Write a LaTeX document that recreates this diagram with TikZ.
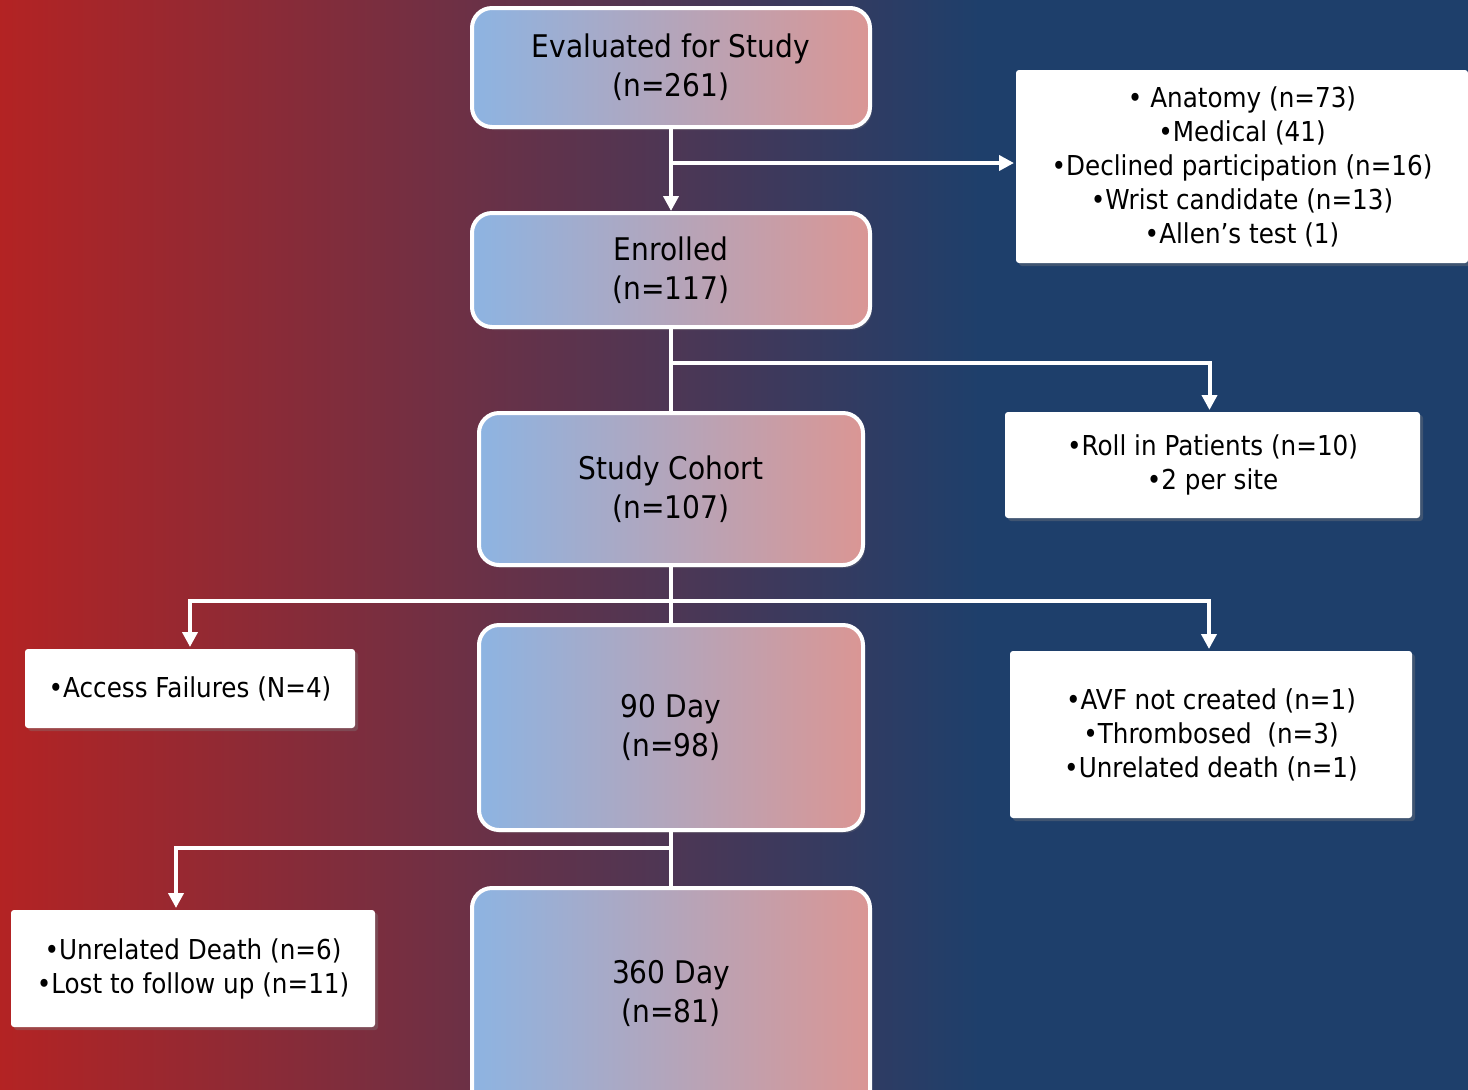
\documentclass[tikz,border=0pt]{standalone}
\usepackage{fontspec}
\setmainfont{DejaVu Sans}[FakeStretch=0.9]
\usetikzlibrary{arrows.meta, shadows}
\definecolor{bgred}{HTML}{B42323}
\definecolor{bgblue}{HTML}{1E3F6B}
\definecolor{cblue}{HTML}{8DB4E2}
\definecolor{cpink}{HTML}{DA9694}
\tikzset{
  every picture/.style={line width=2pt},
  stage/.style={draw=white, line width=2pt, left color=cblue, right color=cpink, rounded corners=10pt,
    align=center, inner sep=0pt, font=\fontsize{15.6}{19.5}\selectfont,
    drop shadow={opacity=0.3, shadow xshift=1pt, shadow yshift=-1.5pt}},
  reason/.style={fill=white, rounded corners=1.5pt, align=center, inner sep=0pt,
    font=\fontsize{13.7}{17}\selectfont,
    drop shadow={opacity=0.35, shadow xshift=1.5pt, shadow yshift=-1.5pt}},
  wire/.style={draw=white, line width=2pt},
  arrow/.style={wire, -{Triangle[width=7.5pt, length=7.5pt]}},
}

\begin{document}
\begin{tikzpicture}[x=0.5pt, y=-0.5pt]
  \useasboundingbox (0,0) rectangle (1468,1089);
  \clip (0,0) rectangle (1468,1089);
  % background
  \fill[left color=bgred, right color=bgblue] (-5,-5) rectangle (980,1100);
  \fill[bgblue] (979,-5) rectangle (1480,1100);

  % main stages
  \node[stage, minimum width=199pt, minimum height=59.5pt] (eval) at (671,67.5) {Evaluated for Study\\(n=261)};
  \node[stage, minimum width=199pt, minimum height=57pt] (enrol) at (671,270) {Enrolled\\(n=117)};
  \node[stage, minimum width=192pt, minimum height=76pt] (cohort) at (671,489) {Study Cohort\\(n=107)};
  \node[stage, minimum width=192pt, minimum height=102.5pt] (day90) at (671,727.5) {90 Day\\(n=98)};
  \node[stage, minimum width=199pt, minimum height=130pt, text depth=27pt] (day360) at (671,1018) {360 Day\\(n=81)};

  % exclusions
  \node[reason, minimum width=226pt, minimum height=96.5pt] (excl) at (1242,166.5)
    {• Anatomy (n=73)\\•Medical (41)\\•Declined participation (n=16)\\•Wrist candidate (n=13)\\•Allen’s test (1)};
  \node[reason, minimum width=207.5pt, minimum height=53pt] (roll) at (1212.5,465) {•Roll in Patients (n=10)\\•2 per site};
  \node[reason, minimum width=165pt, minimum height=39.5pt] (access) at (190,688.5) {•Access Failures (N=4)};
  \node[reason, minimum width=201pt, minimum height=83.5pt] (avf) at (1211,734.5)
    {•AVF not created (n=1)\\•Thrombosed~~(n=3)\\•Unrelated death (n=1)};
  \node[reason, minimum width=182pt, minimum height=58.5pt] (lost) at (193,968.5)
    {•Unrelated Death (n=6)\\•Lost to follow up (n=11)};

  % branch points
  \coordinate (j1) at (671,163);
  \coordinate (j2) at (671,363);
  \coordinate (j3) at (671,601);
  \coordinate (j4) at (671,848);

  \draw[arrow] (eval) -- (enrol);
  \draw[arrow] (j1) -- (j1 -| excl.west);
  \draw[wire] (enrol) -- (cohort);
  \draw[arrow] (j2) -| ([xshift=-1.5pt]roll.north);
  \draw[wire] (cohort) -- (day90);
  \draw[arrow] (j3) -| (access.north);
  \draw[arrow] (j3) -| ([xshift=-1pt]avf.north);
  \draw[wire] (day90) -- (day360);
  \draw[arrow] (j4) -| ([xshift=-8.5pt]lost.north);
\end{tikzpicture}
\end{document}
